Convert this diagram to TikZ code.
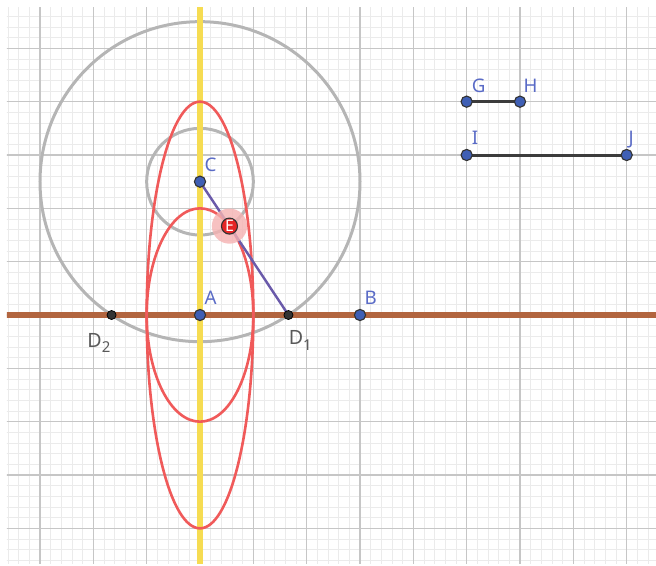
\documentclass[tikz,border=0pt]{standalone}
\usepackage{fontspec}
\setmainfont{Noto Sans}
\usetikzlibrary{calc}
\definecolor{minorc}{HTML}{EBEBEB}
\definecolor{majorc}{HTML}{C6C6C6}
\definecolor{yel}{HTML}{F6DC52}
\definecolor{brn}{HTML}{B2653F}
\definecolor{circc}{HTML}{B5B5B5}
\definecolor{redc}{HTML}{F05A5A}
\definecolor{purp}{HTML}{6A5AAA}
\definecolor{ptblue}{HTML}{3F5FB5}
\definecolor{lblblue}{HTML}{5A6BC6}
\definecolor{segc}{HTML}{3C3C3C}
\definecolor{halo}{HTML}{F5B2B2}
\definecolor{ered}{HTML}{E52626}
\newcommand{\dsub}[1]{\raisebox{-0.55ex}{\fontsize{8}{9}\selectfont #1}}
\tikzset{
  minorline/.style={draw=minorc, line width=0.5pt},
  majorline/.style={draw=majorc, line width=0.75pt},
  circline/.style={draw=circc, line width=1.6pt},
  ellline/.style={draw=redc, line width=1.4pt},
  pt/.style={circle, fill=ptblue, draw=black!80, line width=0.6pt, inner sep=0pt, minimum size=0.21cm},
  dpt/.style={circle, fill=black!80, draw=black, line width=0.4pt, inner sep=0pt, minimum size=0.17cm},
  lbl/.style={anchor=base west, inner sep=0pt, text=lblblue, font=\fontsize{10}{12}\selectfont},
  dlbl/.style={anchor=base west, inner sep=0pt, text=black!65, font=\fontsize{10.5}{12}\selectfont},
  seg/.style={draw=segc, line width=1.6pt}
}
\begin{document}
\begin{tikzpicture}
\useasboundingbox (-3.75,-4.6875) rectangle (8.55,5.90625);
% points
\coordinate (A) at (0,0);
\coordinate (B) at (3,0);
\coordinate (C) at (0,2.5);
\coordinate (D1) at (1.6583,0);
\coordinate (D2) at (-1.6583,0);
\coordinate (E) at (0.5528,1.6667);
\coordinate (G) at (5,4);
\coordinate (H) at (6,4);
\coordinate (I) at (5,3);
\coordinate (J) at (8,3);
\begin{scope}
\clip (-3.619,-4.66) rectangle (8.55,5.775);
\draw[minorline, step=0.2] (-3.8,-4.8) grid (8.6,5.9);
\draw[majorline, step=1] (-3.8,-4.8) grid (8.6,5.9);
\draw[circline] (C) circle[radius=3];
\draw[circline] (C) circle[radius=1];
\draw[draw=yel, line width=3.6pt] (0,-4.8) -- (0,5.9);
\draw[draw=brn, line width=3pt] (-3.8,0) -- (8.6,0);
\draw[ellline] (A) ellipse[x radius=1, y radius=4];
\draw[ellline] (A) ellipse[x radius=1, y radius=2];
\end{scope}
\draw[draw=purp, line width=1.3pt] (C) -- (D1);
\draw[seg] (G) -- (H);
\draw[seg] (I) -- (J);
\fill[halo, opacity=0.8] (E) circle[radius=0.33];
\node[pt] (pA) at (A) {};
\node[pt] (pB) at (B) {};
\node[pt] (pC) at (C) {};
\node[dpt] (pD1) at (D1) {};
\node[dpt] (pD2) at (D2) {};
\node[pt] (pG) at (G) {};
\node[pt] (pH) at (H) {};
\node[pt] (pI) at (I) {};
\node[pt] (pJ) at (J) {};
\node[circle, fill=ered, draw=black!80, line width=0.6pt, inner sep=0pt, minimum size=0.3cm, text=white, font=\fontsize{8.5}{9}\selectfont] (pE) at (E) {E};
% labels
\node[lbl] (lA) at ($(A)+(0.08,0.19)$) {A};
\node[lbl] (lB) at ($(B)+(0.08,0.19)$) {B};
\node[lbl] (lC) at ($(C)+(0.08,0.19)$) {C};
\node[lbl] (lG) at ($(G)+(0.09,0.17)$) {G};
\node[lbl] (lH) at ($(H)+(0.06,0.17)$) {H};
\node[lbl] (lI) at ($(I)+(0.09,0.19)$) {I};
\node[lbl] (lJ) at ($(J)+(0.03,0.19)$) {J};
\node[dlbl] (lD1) at ($(D1)+(0,-0.56)$) {D\dsub{1}};
\node[dlbl] (lD2) at ($(D2)+(-0.46,-0.6)$) {D\dsub{2}};
\end{tikzpicture}
\end{document}
